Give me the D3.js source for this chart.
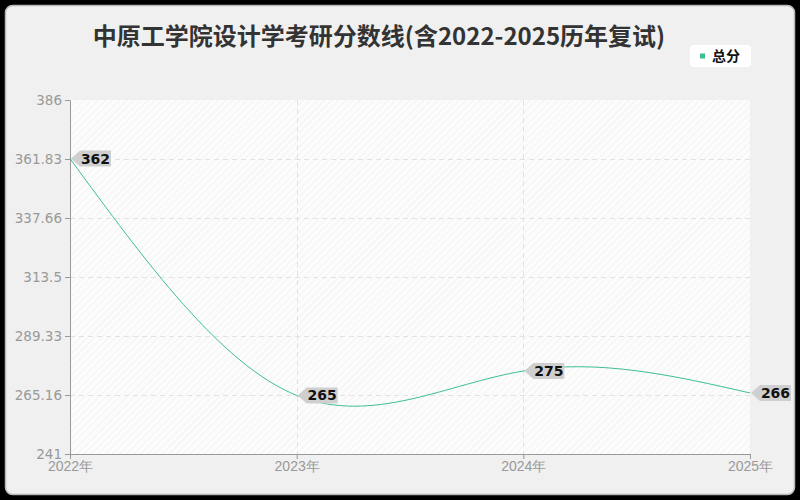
<!DOCTYPE html>
<html>
<head>
<meta charset="utf-8">
<script src="https://cdn.jsdelivr.net/npm/d3@7"></script>
<style>
  html, body { margin: 0; padding: 0; background: #000; }
  svg { display: block; font-family: "Noto Sans CJK SC", "Noto Sans", sans-serif; }
</style>
</head>
<body>
<svg id="chart" width="800" height="500"></svg>
<script>
// chart data
const years = ["2022年", "2023年", "2024年", "2025年"];
const totalScores = [362, 265, 275, 266];
const yTicks = [241, 265.16, 289.33, 313.5, 337.66, 361.83, 386];
const seriesName = "总分";
const titleText = "中原工学院设计学考研分数线(含2022-2025历年复试)";

const width = 800;
const height = 500;
const margin = { top: 100, right: 50, bottom: 46, left: 70 };
const lineColor = "#3dbf94";

const svg = d3.select("#chart");

// card background
svg.append("rect")
  .attr("x", 5.5).attr("y", 5.5)
  .attr("width", width - 11).attr("height", height - 11)
  .attr("rx", 7).attr("ry", 7)
  .attr("fill", "#f0f0f0")
  .attr("stroke", "#b8b8b8")
  .attr("stroke-width", 1.5);

// hatch pattern for the plot area
const defs = svg.append("defs");
const pattern = defs.append("pattern")
  .attr("id", "hatch")
  .attr("patternUnits", "userSpaceOnUse")
  .attr("width", 5).attr("height", 5)
  .attr("patternTransform", "rotate(45)");
pattern.append("rect").attr("width", 5).attr("height", 5).attr("fill", "#fcfcfc");
pattern.append("line")
  .attr("x1", 0).attr("y1", 0).attr("x2", 0).attr("y2", 5)
  .attr("stroke", "#ebebeb").attr("stroke-width", 1);

const x = d3.scalePoint()
  .domain(years)
  .range([margin.left, width - margin.right]);

const y = d3.scaleLinear()
  .domain([241, 386])
  .range([height - margin.bottom, margin.top]);

// plot background
svg.append("rect")
  .attr("x", margin.left).attr("y", margin.top)
  .attr("width", width - margin.left - margin.right)
  .attr("height", height - margin.top - margin.bottom)
  .attr("fill", "url(#hatch)");

// horizontal grid lines
svg.append("g")
  .selectAll("line")
  .data(yTicks.slice(1, -1))
  .enter()
  .append("line")
  .attr("x1", margin.left).attr("x2", width - margin.right)
  .attr("y1", (d) => Math.round(y(d)) + 0.5)
  .attr("y2", (d) => Math.round(y(d)) + 0.5)
  .attr("stroke", "#e2e2e2")
  .attr("stroke-dasharray", "5,4");

// vertical grid lines
svg.append("g")
  .selectAll("line")
  .data(years.slice(1, -1))
  .enter()
  .append("line")
  .attr("x1", (d) => Math.round(x(d)) + 0.5)
  .attr("x2", (d) => Math.round(x(d)) + 0.5)
  .attr("y1", margin.top).attr("y2", height - margin.bottom)
  .attr("stroke", "#e2e2e2")
  .attr("stroke-dasharray", "5,4");

// y axis
const yAxis = svg.append("g")
  .attr("transform", `translate(${margin.left},0)`)
  .call(d3.axisLeft(y).tickValues(yTicks).tickSize(5).tickPadding(3)
    .tickFormat((d) => String(d)));
yAxis.select(".domain").attr("stroke", "#999");
yAxis.selectAll(".tick line").attr("stroke", "#999");
yAxis.selectAll(".tick text")
  .attr("fill", "#999")
  .attr("font-size", 13.5)
  .attr("font-family", "'DejaVu Sans', sans-serif");

// x axis
const xAxis = svg.append("g")
  .attr("transform", `translate(0,${height - margin.bottom})`)
  .call(d3.axisBottom(x).tickSize(5).tickPadding(2));
xAxis.select(".domain").attr("stroke", "#999");
xAxis.selectAll(".tick line").attr("stroke", "#999");
xAxis.selectAll(".tick text")
  .attr("fill", "#999")
  .attr("font-size", 14);

// line
const points = years.map((d, i) => ({ year: d, value: totalScores[i] }));
const line = d3.line()
  .x((d) => x(d.year))
  .y((d) => y(d.value))
  .curve(d3.curveNatural);

svg.append("path")
  .datum(points)
  .attr("d", line)
  .attr("fill", "none")
  .attr("stroke", lineColor)
  .attr("stroke-width", 1);

// value tags
const tags = svg.append("g")
  .selectAll(".tag")
  .data(points)
  .enter()
  .append("g")
  .attr("class", "tag")
  .attr("transform", (d) => `translate(${x(d.year)},${y(d.value)})`);

tags.append("path")
  .attr("d", "M1,0 L10,-8 L41,-8 L41,8 L10,8 Z")
  .attr("fill", "#cfcfcf");

tags.append("text")
  .attr("x", 25.5)
  .attr("y", 5)
  .attr("text-anchor", "middle")
  .attr("font-size", 14)
  .attr("font-weight", "bold")
  .attr("fill", "#111")
  .attr("font-family", "'DejaVu Sans', sans-serif")
  .text((d) => d.value);

// title
svg.append("text")
  .attr("x", 379)
  .attr("y", 45)
  .attr("text-anchor", "middle")
  .attr("font-size", 24)
  .attr("font-weight", "bold")
  .attr("fill", "#333")
  .text(titleText);

// legend
const legend = svg.append("g").attr("transform", "translate(690,45)");
legend.append("rect")
  .attr("width", 61).attr("height", 22)
  .attr("rx", 4).attr("ry", 4)
  .attr("fill", "#fff");
legend.append("rect")
  .attr("x", 10).attr("y", 8.5)
  .attr("width", 5).attr("height", 5)
  .attr("fill", lineColor);
legend.append("text")
  .attr("x", 22).attr("y", 16)
  .attr("font-size", 14)
  .attr("font-weight", "bold")
  .attr("fill", "#111")
  .text(seriesName);
</script>
</body>
</html>
